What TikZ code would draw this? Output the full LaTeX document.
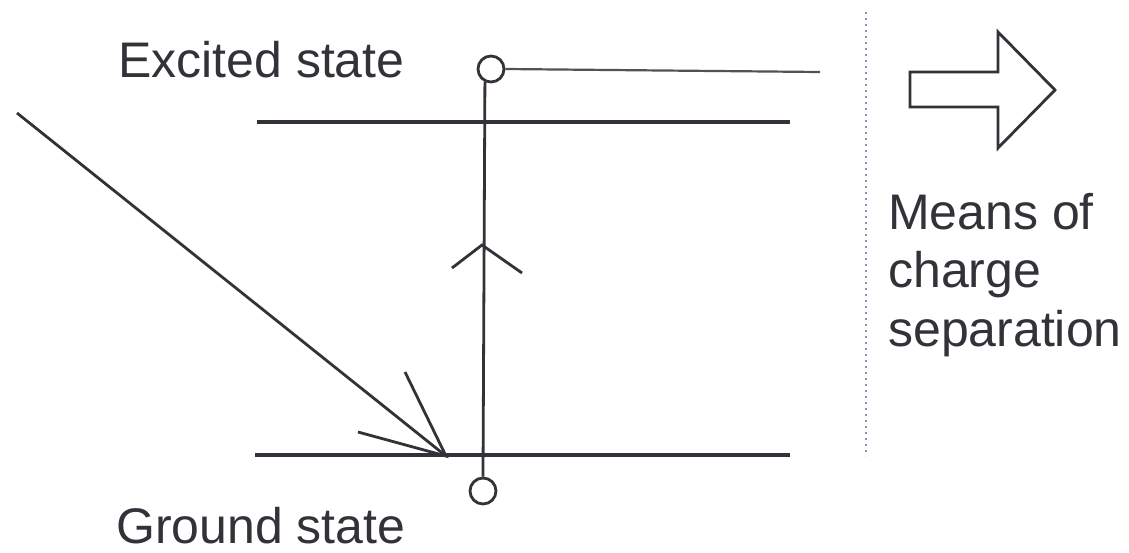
\documentclass[tikz,border=0pt]{standalone}
\usepackage{fontspec}
\setmainfont{Liberation Sans}
\definecolor{ink}{HTML}{333238}
\definecolor{dotc}{HTML}{9A8CB0}
\begin{document}
\begin{tikzpicture}[x=1pt,y=-1pt,
  lvl/.style={draw=ink,line width=3.4pt},
  thin/.style={draw=ink!85,line width=2.2pt},
  ray/.style={draw=ink,line width=2.8pt},
  lbl/.style={inner sep=0pt,text=ink,font=\fontsize{50}{58.5}\selectfont},
  dot/.style={circle,draw=ink,line width=2.8pt,minimum size=26pt,inner sep=0pt,fill=white}]
\useasboundingbox (0,0) rectangle (1129,552);
\fill[white] (0,0) rectangle (1129,552);
% energy levels
\coordinate (ea) at (257,122); \coordinate (eb) at (790,122);
\coordinate (ga) at (255,455); \coordinate (gb) at (790,455);
\draw[lvl] (ea) -- (eb);
\draw[lvl] (ga) -- (gb);
% circles
\node[dot] (top) at (491,69) {};
\node[dot] (bot) at (483,491) {};
\coordinate (tl) at (820,72);
\draw[thin] (top.east) -- (tl);
\draw[ray] (bot.north) -- (top.245);
% chevron
\coordinate (cap) at (482,245);
\coordinate (cl) at (452,268);
\coordinate (cr) at (522,273);
\draw[ray] (cl) -- (cap) -- (cr);
% incoming light
\coordinate (src) at (17,113);
\coordinate (tip) at (446,456);
\coordinate (b1) at (405,372);
\coordinate (b2) at (358,432);
\draw[ray] (src) -- (tip);
\draw[ray] (b1) -- (tip) -- (b2);
% dotted separator
\coordinate (da) at (866,12); \coordinate (db) at (866,456);
\draw[dotc,line width=1.8pt,dash pattern=on 2pt off 4pt] (da) -- (db);
% block arrow
\draw[ink,line width=2.8pt,line join=miter]
  (910,72) -- (998,72) -- (998,32) -- (1055,90) -- (998,148) -- (998,107) -- (910,107) -- cycle;
% labels
\node[lbl,anchor=base west] (ex) at (118,77) {Excited state};
\node[lbl,anchor=base west] (gr) at (116,543) {Ground state};
\node[lbl,anchor=north west,align=left] (ms) at (888,193) {Means of\\charge\\separation};
\end{tikzpicture}
\end{document}
